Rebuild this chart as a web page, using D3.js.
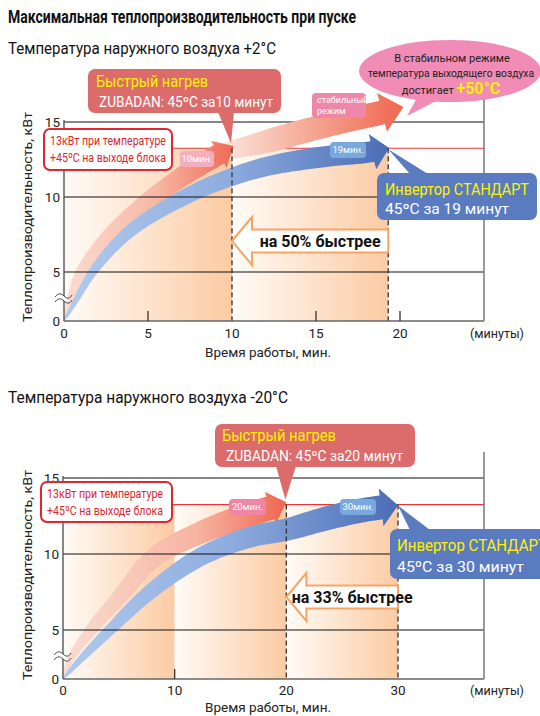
<!DOCTYPE html>
<html><head><meta charset="utf-8">
<script src="https://cdn.jsdelivr.net/npm/d3@7"></script>
<style>
body{margin:0;background:#fff}
svg{display:block}
text{font-family:Roboto,"Noto Sans","Open Sans",sans-serif}
</style>
</head><body>
<svg id="c" width="540" height="716"></svg>
<script>
// ---------------- DATA ----------------
const mainTitle = "Максимальная теплопроизводительность при пуске";
const yAxisTitle = "Теплопроизводительность, кВт";
const xAxisTitle = "Время работы, мин.";
const xUnitLabel = "(минуты)";
const yTickValues = [0, 5, 10, 15];
const targetKW = 13.25;              // 13 кВт reference line, as drawn
const targetText = ["13кВт при температуре", "+45ºC на выходе блока"];

// chart 1: outdoor +2°C
const c1Subtitle = "Температура наружного воздуха +2°C";
const c1XTicks = [0, 5, 10, 15, 20];
const c1Bands = [[0, 10], [10, 19.3]];
const c1ZubadanMin = 10;
const c1StandardMin = 19.3;
const c1Zubadan = [[0,0],[0.36,2.1],[1.0,5.0],[2.75,7.5],[5.1,9.8],[7.5,11.7],[9.0,12.7],[10.1,13.4]];
const c1Stable  = [[9.0,12.9],[11.7,13.6],[14.0,14.3],[16.4,15.0],[18.8,15.6],[20.2,16.0]];
const c1Standard = [[0,0],[0.7,2.1],[1.7,5.0],[3.9,7.7],[7.2,10.0],[9.9,11.3],[12.3,12.1],[15.6,12.7],[18.2,13.0],[19.35,13.27]];
const c1ZubadanText = ["Быстрый нагрев", "ZUBADAN: 45ºC за10 минут"];
const c1StandardText = ["Инвертор СТАНДАРТ", "45ºC за 19 минут"];
const c1Faster = "на 50% быстрее";
const c1ZubadanTag = "10мин.";
const c1StandardTag = "19мин.";
const c1StableTag = ["стабильный", "режим"];
const c1Bubble = ["В стабильном режиме", "температура выходящего воздуха", "достигает ", "+50°C"];

// chart 2: outdoor -20°C
const c2Subtitle = "Температура наружного воздуха -20°C";
const c2XTicks = [0, 10, 20, 30];
const c2Bands = [[0, 10], [10, 20], [20, 30]];
const c2ZubadanMin = 20;
const c2StandardMin = 30;
const c2Zubadan = [[0,0],[0.63,1.9],[2.5,5.0],[5.1,7.2],[8.2,9.8],[12.3,11.4],[15.9,12.4],[18.4,13.0],[20.0,13.4]];
const c2Standard = [[0,0],[1.5,1.9],[4.2,5.0],[7.8,7.5],[12.3,9.8],[16.7,11.1],[20.0,11.6],[23.9,12.4],[27.0,12.9],[30.0,13.2]];
const c2ZubadanText = ["Быстрый нагрев", "ZUBADAN: 45ºC за20 минут"];
const c2StandardText = ["Инвертор СТАНДАРТ", "45ºC за 30 минут"];
const c2Faster = "на 33% быстрее";
const c2ZubadanTag = "20мин.";
const c2StandardTag = "30мин.";

// ---------------- DRAWING ----------------
const svg = d3.select("#c");
const defs = svg.append("defs");
const YELLOW = "#fff200";

function grad(id, x1, x2, stops) {
  const g = defs.append("linearGradient").attr("id", id)
    .attr("gradientUnits", "userSpaceOnUse")
    .attr("x1", x1).attr("x2", x2).attr("y1", 0).attr("y2", 0);
  stops.forEach(([o, c]) => g.append("stop").attr("offset", o).attr("stop-color", c));
}

function label(g, x, y, s, o = {}) {
  const t = g.append("text").attr("x", x).attr("y", y).text(s)
    .attr("font-size", o.size || 12).attr("fill", o.fill || "#111")
    .attr("font-weight", o.weight || "normal")
    .attr("text-anchor", o.anchor || "start");
  if (o.len) t.attr("textLength", o.len).attr("lengthAdjust", "spacingAndGlyphs");
  return t;
}

function arrowShape(g, pts, xs, ys, o) {
  const P = pts.map(d => [xs(d[0]), ys(d[1])]);
  const tmp = g.append("path")
    .attr("d", d3.line().curve(d3.curveCatmullRom.alpha(0.5))(P))
    .attr("fill", "none");
  const node = tmp.node();
  const L = node.getTotalLength();
  const Lb = L - o.headLen;
  const N = 90, top = [], bot = [];
  let nx = 0, ny = -1;
  for (let i = 0; i <= N; i++) {
    const s = Lb * i / N;
    const p = node.getPointAtLength(s);
    const a = node.getPointAtLength(Math.max(0, s - 1.5));
    const b = node.getPointAtLength(Math.min(L, s + 1.5));
    let dx = b.x - a.x, dy = b.y - a.y;
    const m = Math.hypot(dx, dy) || 1; dx /= m; dy /= m;
    nx = dy; ny = -dx;
    const f = Math.pow(Math.min(1, s / (o.grow * Lb)), o.exp);
    const w = (o.w0 || 0) + (o.w1 - (o.w0 || 0)) * f;
    top.push([p.x + nx * w / 2, p.y + ny * w / 2]);
    bot.push([p.x - nx * w / 2, p.y - ny * w / 2]);
  }
  const pb = node.getPointAtLength(Lb);
  const tip = node.getPointAtLength(L);
  let dx = tip.x - pb.x, dy = tip.y - pb.y;
  const m = Math.hypot(dx, dy) || 1; dx /= m; dy /= m;
  const hx = dy, hy = -dx, hw = o.headW / 2;
  const poly = top.concat([[pb.x + hx * hw, pb.y + hy * hw], [tip.x, tip.y], [pb.x - hx * hw, pb.y - hy * hw]], bot.reverse());
  tmp.remove();
  g.append("path").attr("d", "M" + poly.map(p => p[0].toFixed(2) + "," + p[1].toFixed(2)).join("L") + "Z")
    .attr("fill", o.fill);
}

function tagBox(g, x, y, w, h, fill, lines, size, anchor) {
  g.append("rect").attr("x", x).attr("y", y).attr("width", w).attr("height", h).attr("rx", 4).attr("fill", fill);
  lines.forEach((s, i) => {
    if (anchor === "middle") label(g, x + w / 2, y + h / 2 + size * 0.36 + (i - (lines.length - 1) / 2) * (size + 2), s, {size, fill: "#fff", anchor: "middle"});
    else label(g, x + 5, y + 10 + i * (size + 2), s, {size, fill: "#fff"});
  });
}

function callout(g, box, pointer, fill, lines) {
  g.append("path").attr("d", "M" + pointer.join("L") + "Z").attr("fill", fill);
  g.append("rect").attr("x", box.x).attr("y", box.y).attr("width", box.w).attr("height", box.h).attr("rx", 7).attr("fill", fill);
  label(g, box.t1x, box.t1y, lines[0], {size: box.s1, fill: YELLOW, len: box.l1});
  label(g, box.t2x, box.t2y, lines[1], {size: box.s2, fill: "#fff", len: box.l2});
}

function fastArrow(g, x0, x1, yc, text) {
  const hl = 20, hh = 24, bh = 11.5;
  const pts = [[x0, yc], [x0 + hl, yc - hh], [x0 + hl, yc - bh], [x1, yc - bh], [x1, yc + bh], [x0 + hl, yc + bh], [x0 + hl, yc + hh]];
  g.append("path").attr("d", "M" + pts.join("L") + "Z").attr("fill", "#fff").attr("stroke", "#f6a565").attr("stroke-width", 2);
  label(g, (x0 + hl + x1) / 2, yc + 6, text, {size: 16, weight: "bold", anchor: "middle", fill: "#111"});
}

function drawChart(cfg) {
  const g = svg.append("g");
  const x = d3.scaleLinear().domain([0, cfg.xMax]).range(cfg.xRange);
  const y = d3.scaleLinear().domain([0, 5, 15]).range(cfg.yRange);
  const X0 = x(0), Y0 = y(0), R = cfg.right;
  const yT = y(targetKW);

  // shaded bands
  cfg.bands.forEach((b, i) => {
    const id = cfg.id + "band" + i;
    grad(id, x(b[0]), x(b[1]), [[0, "#fffbf7"], [1, "#fccba3"]]);
    g.append("rect").attr("x", x(b[0])).attr("y", yT).attr("width", x(b[1]) - x(b[0])).attr("height", Y0 - yT).attr("fill", `url(#${id})`);
  });

  // red target line and top grid line
  g.append("line").attr("x1", X0).attr("x2", R).attr("y1", yT).attr("y2", yT).attr("stroke", "#e8353c").attr("stroke-width", 1.2);
  g.append("line").attr("x1", X0).attr("x2", R).attr("y1", y(15)).attr("y2", y(15)).attr("stroke", "#111").attr("stroke-width", 1.2);

  // arrows
  const aG = g.append("g");
  cfg.arrows.forEach(a => {
    const id = cfg.id + a.key;
    grad(id, x(a.data[0][0]), x(a.data[a.data.length - 1][0]), a.stops);
    arrowShape(aG, a.data, x, y, Object.assign({fill: `url(#${id})`}, a.style));
  });

  // grid lines 5, 10
  [5, 10].forEach(v => g.append("line").attr("x1", X0).attr("x2", R).attr("y1", y(v)).attr("y2", y(v)).attr("stroke", "#111").attr("stroke-width", 1.2));

  // dashed lines
  cfg.dashed.forEach(v => g.append("line").attr("x1", x(v)).attr("x2", x(v)).attr("y1", yT).attr("y2", Y0)
    .attr("stroke", "#333").attr("stroke-width", 1.3).attr("stroke-dasharray", "5,3"));

  // axes
  g.append("line").attr("x1", X0).attr("x2", X0).attr("y1", y(15) - 2).attr("y2", Y0).attr("stroke", "#555").attr("stroke-width", 1.4);
  g.append("line").attr("x1", X0).attr("x2", R).attr("y1", Y0).attr("y2", Y0).attr("stroke", "#666").attr("stroke-width", 1.6);
  g.append("line").attr("x1", R).attr("x2", R).attr("y1", cfg.borderTop).attr("y2", Y0).attr("stroke", "#808080").attr("stroke-width", 1.6);
  cfg.xTicks.filter(v => v > 0 && !cfg.dashed.includes(v)).forEach(v =>
    g.append("line").attr("x1", x(v)).attr("x2", x(v)).attr("y1", Y0).attr("y2", Y0 - 10).attr("stroke", "#333").attr("stroke-width", 1.3));
  // axis break
  const yb = Y0 - 23;
  g.append("rect").attr("x", X0 - 2).attr("y", yb - 2).attr("width", 4).attr("height", 5).attr("fill", "#fff");
  [yb - 2, yb + 3].forEach(yy => g.append("path")
    .attr("d", `M${X0 - 9},${yy + 1} C${X0 - 6},${yy - 3} ${X0 - 3},${yy - 3} ${X0},${yy} S${X0 + 6},${yy + 3} ${X0 + 8},${yy - 1}`)
    .attr("fill", "none").attr("stroke", "#444").attr("stroke-width", 1));

  // tick labels
  yTickValues.forEach(v => label(g, X0 - 4, y(v) + 5, String(v), {size: 13.5, anchor: "end", fill: "#222"}));
  cfg.xTicks.forEach(v => label(g, x(v), Y0 + cfg.tickDy, String(v), {size: 13.5, anchor: "middle", fill: "#222"}));
  label(g, 497, Y0 + cfg.tickDy, xUnitLabel, {size: 12.5, anchor: "middle", fill: "#222"});
  label(g, 268, Y0 + cfg.titleDy, xAxisTitle, {size: 13.5, anchor: "middle", fill: "#222"});
  g.append("text").attr("transform", `translate(32,${cfg.yTitleY}) rotate(-90)`)
    .attr("text-anchor", "middle").attr("font-size", 13.5).attr("fill", "#222")
    .attr("textLength", 210).attr("lengthAdjust", "spacingAndGlyphs").text(yAxisTitle);

  // subtitle
  label(svg, 8, cfg.subY, cfg.subtitle, {size: 16.5, fill: "#111", len: cfg.subLen});

  // target label box
  const tb = cfg.targetBox;
  g.append("rect").attr("x", tb.x).attr("y", tb.y).attr("width", tb.w).attr("height", tb.h).attr("rx", 6)
    .attr("fill", "#fff").attr("stroke", "#e0262f").attr("stroke-width", 2);
  targetText.forEach((s, i) => label(g, tb.x + 6, tb.y + 16 + i * 17, s, {size: 12, fill: "#d9272e", len: 116}));

  // faster arrow
  fastArrow(g, x(cfg.zMin), x(cfg.sMin), cfg.fastY, cfg.faster);

  // time tags
  tagBox(g, cfg.zTag.x, cfg.zTag.y, cfg.zTag.w, 16, cfg.zTag.fill, [cfg.zTag.text], 9.5, "middle");
  tagBox(g, cfg.sTag.x, cfg.sTag.y, cfg.sTag.w, 16, "#79a8df", [cfg.sTag.text], 9.5, "middle");

  // callouts
  const zc = cfg.zCall;
  callout(g, zc, [[zc.px0, zc.y + zc.h - 1], [zc.px1, zc.y + zc.h - 1], [x(cfg.zMin) - 1, yT - 5]], "#dc6b6c", cfg.zText);
  const sc = cfg.sCall;
  callout(g, sc, [[sc.px0, sc.y + 1], [sc.px1, sc.y + 1], [x(cfg.sMin), yT + 1]], "#5a7bc0", cfg.sText);
  return {g, x, y};
}

// title
label(svg, 8, 23, mainTitle, {size: 19, weight: "bold", fill: "#111", len: 348});

const ch1 = drawChart({
  id: "c1", xMax: 20, xRange: [64, 400], yRange: [321, 272, 122], right: 484, borderTop: 97,
  xTicks: c1XTicks, bands: c1Bands, dashed: [c1ZubadanMin, c1StandardMin],
  zMin: c1ZubadanMin, sMin: c1StandardMin, yTitleY: 217, tickDy: 17, titleDy: 36,
  subtitle: c1Subtitle, subY: 54, subLen: 268,
  arrows: [
    {key: "stable", data: c1Stable, stops: [[0, "#fdebe4"], [0.5, "#f5a893"], [1, "#ef6650"]],
     style: {w0: 16, w1: 24, grow: 0.35, exp: 1, headW: 40, headLen: 22}},
    {key: "zub", data: c1Zubadan, stops: [[0, "#fbdcd2"], [0.55, "#f7b7a4"], [1, "#ef6954"]],
     style: {w1: 21, grow: 0.9, exp: 0.5, headW: 31, headLen: 17}},
    {key: "std", data: c1Standard, stops: [[0, "#b2cbec"], [0.5, "#8eaddf"], [1, "#4a6db6"]],
     style: {w1: 21, grow: 0.85, exp: 0.5, headW: 36, headLen: 17}}
  ],
  faster: c1Faster, fastY: 241,
  targetBox: {x: 44, y: 129, w: 128, h: 41},
  zTag: {x: 180, y: 151, w: 34, fill: "#f4afbe", text: c1ZubadanTag},
  sTag: {x: 330, y: 142, w: 36, text: c1StandardTag},
  zText: c1ZubadanText, sText: c1StandardText,
  zCall: {x: 88, y: 69, w: 193, h: 44, px0: 218, px1: 234, t1x: 96, t1y: 87, s1: 16, l1: 112, t2x: 99, t2y: 107, s2: 14.5, l2: 174},
  sCall: {x: 377, y: 173, w: 160, h: 47, px0: 410, px1: 428, t1x: 385, t1y: 195, s1: 16, l1: 144, t2x: 385, t2y: 214, s2: 14.5, l2: 124}
});

// stable mode tag and bubble (chart 1)
(function () {
  const g = ch1.g;
  tagBox(g, 312, 93, 54, 25, "#ef87a8", c1StableTag, 9, "start");
  g.append("path").attr("d", "M418,96L442,98L407,116Z").attr("fill", "#f08cb6");
  g.append("ellipse").attr("cx", 450).attr("cy", 71).attr("rx", 91).attr("ry", 31).attr("fill", "#f08cb6");
  label(g, 452, 62, c1Bubble[0], {size: 11, anchor: "middle", fill: "#222"});
  label(g, 451, 77, c1Bubble[1], {size: 11, anchor: "middle", fill: "#222", len: 166});
  const t = g.append("text").attr("x", 451).attr("y", 94).attr("text-anchor", "middle").attr("font-size", 11).attr("fill", "#222");
  t.append("tspan").text(c1Bubble[2]);
  t.append("tspan").attr("font-size", 16).attr("font-weight", "bold").attr("fill", YELLOW).text(c1Bubble[3]);
})();

drawChart({
  id: "c2", xMax: 30, xRange: [63, 398], yRange: [679, 630, 478], right: 484, borderTop: 452,
  xTicks: c2XTicks, bands: c2Bands, dashed: [c2ZubadanMin, c2StandardMin],
  zMin: c2ZubadanMin, sMin: c2StandardMin, yTitleY: 575, tickDy: 16, titleDy: 33,
  subtitle: c2Subtitle, subY: 403, subLen: 280,
  arrows: [
    {key: "zub", data: c2Zubadan, stops: [[0, "#fbdcd2"], [0.6, "#f7b4a1"], [1, "#ef6650"]],
     style: {w1: 24, grow: 0.85, exp: 0.5, headW: 34, headLen: 17}},
    {key: "std", data: c2Standard, stops: [[0, "#b0caec"], [0.5, "#8eacde"], [1, "#4a6db6"]],
     style: {w1: 24, grow: 0.85, exp: 0.5, headW: 38, headLen: 17}}
  ],
  faster: c2Faster, fastY: 597,
  targetBox: {x: 41, y: 482, w: 131, h: 40},
  zTag: {x: 229, y: 499, w: 37, fill: "#ef86a6", text: c2ZubadanTag},
  sTag: {x: 340, y: 499, w: 36, text: c2StandardTag},
  zText: c2ZubadanText, sText: c2StandardText,
  zCall: {x: 215, y: 424, w: 200, h: 43, px0: 276, px1: 296, t1x: 222, t1y: 441, s1: 16, l1: 114, t2x: 226, t2y: 461, s2: 14.5, l2: 177},
  sCall: {x: 390, y: 529, w: 165, h: 50, px0: 410, px1: 430, t1x: 397, t1y: 551, s1: 17, l1: 150, t2x: 397, t2y: 572, s2: 15, l2: 127}
});
</script>
</body></html>
